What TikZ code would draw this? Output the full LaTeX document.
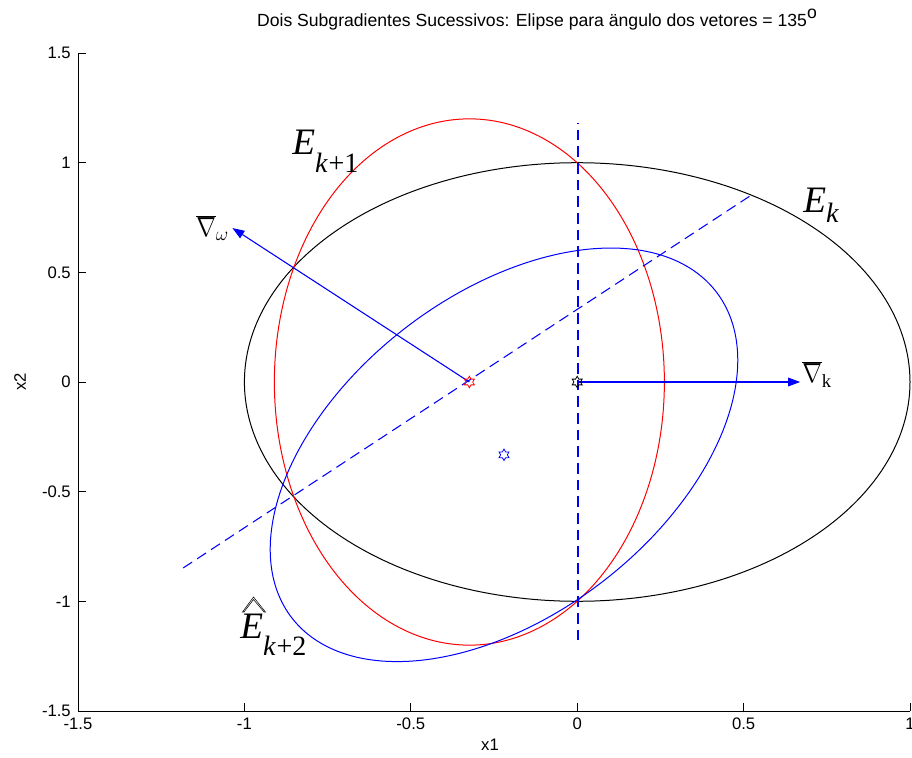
\documentclass[tikz,border=0pt]{standalone}
\usepackage{fontspec}
\usepackage{graphicx}
\setmainfont{Liberation Serif}
\newfontfamily\arial{Liberation Sans}
\usetikzlibrary{arrows.meta}
\definecolor{mblue}{RGB}{0,0,255}
\definecolor{mred}{RGB}{255,0,0}
\tikzset{
  axisline/.style={line width=0.6pt, black},
  ticklab/.style={font=\arial\fontsize{12.5}{14}\selectfont, inner sep=0pt},
  curve/.style={line width=0.75pt},
  guide/.style={draw=mblue, line width=0.8pt, dash pattern=on 8pt off 4.5pt},
  grad/.style={draw=mblue, fill=mblue, line width=0.8pt, -{Triangle[length=9pt,width=6.5pt]}},
  biglab/.style={anchor=base west, inner sep=0pt, font=\fontsize{28}{30}\selectfont},
  nablab/.style={anchor=base west, inner sep=0pt, font=\fontsize{20}{22}\selectfont},
  hexmark/.pic={\draw[line width=0.6pt] (90:4.3pt)--(120:2.5pt)--(150:4.3pt)--(180:2.5pt)--(210:4.3pt)--(240:2.5pt)--(270:4.3pt)--(300:2.5pt)--(330:4.3pt)--(0:2.5pt)--(30:4.3pt)--(60:2.5pt)--cycle;}
}
\begin{document}
\begin{tikzpicture}[x=0.75pt,y=0.75pt]
\useasboundingbox (0,0) rectangle (912,757);
% axes
\draw[axisline] (78,704) -- (78,46) -- (910,46);
\foreach \v/\t in {1.5/1.5,1/1,0.5/0.5,0/0,-0.5/-0.5,-1/-1,-1.5/-1.5}{
  \draw[axisline] (78,{375+219.3*\v}) -- (86,{375+219.3*\v});
  \node[ticklab, anchor=east] at (71,{375+219.3*\v}) {\t};
}
\foreach \v/\t in {-1.5/-1.5,-1/-1,-0.5/-0.5,0/0,0.5/0.5,1/1}{
  \draw[axisline] ({577.2+332.8*\v},46) -- ({577.2+332.8*\v},54);
  \node[ticklab, anchor=north] at ({577.2+332.8*\v},39) {\t};
}
\node[ticklab] (xl) at (490,12) {x1};
\node[ticklab, rotate=90] (yl) at (20,375) {x2};
\node[ticklab, anchor=base, font=\arial\fontsize{13.2}{15}\selectfont] (title) at (537,730) {Dois Subgradientes Sucessivos: Elipse para ängulo dos vetores = 135\raisebox{6pt}{o}};

% data scope
\begin{scope}[shift={(577.2,375)}, x=249.6pt, y=164.475pt]
  \coordinate (O) at (0,0);
  \coordinate (C1) at (-0.324,0);
  \coordinate (C2) at (-0.22,-0.332);
  \coordinate (gk) at (0.67,0);
  \coordinate (gw) at (-1.036,0.702);
  \coordinate (v1) at (0.0015,-1.178);
  \coordinate (v2) at (0.0015,1.181);
  \coordinate (d1) at (-1.184,-0.848);
  \coordinate (d2) at (0.519,0.848);
  % ellipses
  \draw[curve, black] plot[domain=0:360, samples=241, variable=\t] ({cos(\t)},{sin(\t)}) -- cycle;
  \draw[curve, mred] plot[domain=0:360, samples=241, variable=\t] ({-0.324+0.586*cos(\t)},{1.2*sin(\t)}) -- cycle;
  \draw[curve, mblue] plot[domain=0:360, samples=241, variable=\t] ({-0.22+0.7025*cos(\t)},{-0.332+0.4313*cos(\t)+0.8385*sin(\t)}) -- cycle;
  % guide lines
  \draw[guide, line width=1.2pt] (v1) -- (v2);
  \draw[guide] (d1) -- (d2);
  % gradients
  \draw[grad] (O) -- (gk);
  \draw[grad] (C1) -- (gw);
  % centres
  \pic[black] at (O) {hexmark};
  \pic[mred] at (C1) {hexmark};
  \pic[mblue] at (C2) {hexmark};
\end{scope}

% labels
\node[biglab] (Ek1) at (292,602) {\textit{E}\raisebox{-13.5pt}{\fontsize{21}{24}\selectfont\textit{k}\kern0.5pt+1}};
\node[biglab] (Ek) at (803,544) {\textit{E}\raisebox{-7pt}{\fontsize{21}{24}\selectfont\textit{k}}};
\node[biglab] (Ek2) at (240,119) {\textit{E}\raisebox{-12.75pt}{\fontsize{21}{24}\selectfont\textit{k}\kern0.5pt+2}};
\draw[line width=0.4pt, fill=white] (242.5,145) -- (253.5,160) -- (265.5,145) -- (264,145) -- (253.5,157.5) -- (244,145) -- cycle;
\node[nablab] (nw) at (196,520) {$\overline{\scalebox{0.85}[1]{$\nabla$}}$\raisebox{-3pt}{\fontsize{14}{15}\selectfont$\omega$}};
\node[nablab] (nk) at (802,374) {$\overline{\scalebox{0.85}[1]{$\nabla$}}$\raisebox{-3.5pt}{\fontsize{14}{15}\selectfont k}};
\end{tikzpicture}
\end{document}
